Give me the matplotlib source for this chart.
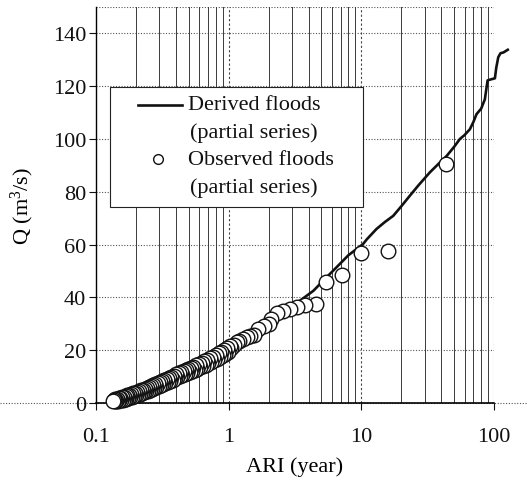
import matplotlib
matplotlib.use("Agg")
import matplotlib.pyplot as plt
import matplotlib.transforms as mtransforms
from matplotlib.patches import Rectangle
from matplotlib.ticker import FixedLocator, NullFormatter

plt.rcParams['font.family'] = ['Liberation Serif', 'DejaVu Serif']
plt.rcParams['mathtext.fontset'] = 'custom'
plt.rcParams['mathtext.rm'] = 'Liberation Serif'
plt.rcParams['mathtext.it'] = 'Liberation Serif:italic'

# Derived floods (partial series)
derived_ari = [0.13, 0.2, 0.3, 0.5, 0.7, 1.0, 1.45, 1.72, 2.2, 2.73, 3.5, 4.35,
               5.2, 6.5, 8.0, 10.3, 11.0, 13.0, 15.0, 17.4, 20.0, 23.2, 27.0,
               32.9, 38.0, 44.0, 50.0, 55.3, 60.0, 65.8, 70.0, 73.8, 80.0, 85.3,
               89.5, 95.0, 101.6, 104.0, 107.7, 112.0, 118.0, 127.0]
derived_q = [0.5, 3.5, 7.0, 12.0, 15.5, 20.5, 27.0, 29.3, 32.5, 35.6, 39.0, 42.5,
             46.5, 51.4, 56.0, 60.2, 62.0, 65.9, 68.5, 70.9, 74.5, 78.5, 82.5,
             87.4, 90.5, 93.6, 97.0, 100.0, 101.5, 103.7, 106.5, 109.4, 111.5, 115.0,
             122.2, 122.6, 123.0, 127.0, 131.0, 132.5, 132.8, 133.8]

# Observed floods (partial series)
obs_ari = [43.4, 16.0, 9.86, 7.1, 5.4, 4.55, 3.76, 3.25, 2.9, 2.58, 2.3, 2.1,
           2.0, 1.85, 1.67, 1.55, 1.45, 1.37, 1.28, 1.2, 1.15, 1.1, 1.05,
           1.02, 0.99, 0.97, 0.94, 0.92, 0.90, 0.88, 0.86, 0.84, 0.82, 0.80,
           0.78, 0.76, 0.74, 0.72, 0.70, 0.685, 0.67, 0.655, 0.64, 0.625, 0.61,
           0.595, 0.58, 0.567, 0.555, 0.543, 0.531, 0.52, 0.509, 0.498, 0.487,
           0.477, 0.467, 0.457, 0.447, 0.438, 0.429, 0.420, 0.411, 0.402, 0.394,
           0.386, 0.378, 0.370, 0.362, 0.355, 0.348, 0.341, 0.334, 0.327, 0.321,
           0.315, 0.309, 0.303, 0.297, 0.291, 0.285, 0.280, 0.275, 0.270, 0.265,
           0.260, 0.255, 0.250, 0.246, 0.242, 0.237, 0.233, 0.229, 0.225, 0.221,
           0.217, 0.213, 0.210, 0.206, 0.203, 0.199, 0.196, 0.193, 0.190, 0.187,
           0.184, 0.181, 0.178, 0.175, 0.172, 0.169, 0.167, 0.164, 0.162, 0.159,
           0.157, 0.154, 0.152, 0.150, 0.148, 0.146, 0.144, 0.142, 0.140, 0.138,
           0.136, 0.134]
obs_q = [90.5, 57.7, 56.8, 48.6, 45.7, 37.5, 37.1, 36.2, 35.6, 35.0, 34.0, 32.0,
         30.0, 29.0, 28.0, 25.7, 25.5, 25.0, 24.2, 23.6, 23.0, 22.0, 21.0,
         21.5, 19.2, 20.8, 18.6, 20.0, 18.0, 19.4, 17.4, 18.8, 16.8, 18.2,
         16.2, 17.6, 15.6, 17.0, 15.0, 16.4, 14.5, 15.8, 14.0, 15.3, 13.5,
         14.8, 13.0, 14.3, 12.5, 13.8, 12.1, 13.4, 11.7, 12.9, 11.3,
         12.5, 10.9, 12.1, 10.5, 11.7, 10.1, 11.3, 9.7, 10.8, 9.3,
         10.4, 8.9, 10.0, 8.5, 9.6, 8.1, 9.2, 7.7, 8.8, 7.3,
         8.4, 6.9, 8.0, 6.5, 7.6, 6.1, 7.2, 5.8, 6.8, 5.4,
         6.5, 5.1, 6.1, 4.7, 5.8, 4.4, 5.4, 4.1, 5.1, 3.8,
         4.8, 3.5, 4.5, 3.2, 4.2, 2.9, 3.9, 2.6, 3.6, 2.4,
         3.4, 2.1, 3.1, 1.9, 2.9, 1.7, 2.6, 1.5, 2.4, 1.3,
         2.2, 1.2, 2.0, 1.0, 1.8, 0.9, 1.6, 0.8, 1.4, 0.8,
         1.1, 0.8]

x_ticks = [0.1, 1, 10, 100]
x_tick_labels = ['0.1', '1', '10', '100']
y_ticks = [0, 20, 40, 60, 80, 100, 120, 140]

FS = 16

fig = plt.figure(figsize=(5.27, 4.89), dpi=100)
ax = fig.add_axes([96/527, 1-404/489, 398/527, 396/489])

ax.set_xscale('log')
ax.set_xlim(0.1, 100)
ax.set_ylim(0, 150)

# grids
dot = (0, (1, 1.5))
for yv in y_ticks[1:]:
    ax.axhline(yv, color='#555555', lw=0.8, ls=dot, zorder=0.5)
ax.axhline(150, color='#555555', lw=0.8, ls=dot, zorder=0.5)
minor_x = [m * 10.0**e for e in (-1, 0, 1) for m in range(2, 10)]
for xv in minor_x:
    ax.axvline(xv, color='#3a3a3a', lw=0.7, zorder=0.5)
for xv in (1, 10):
    ax.axvline(xv, color='#444444', lw=0.8, ls=(0, (2, 2)), zorder=0.5)
ax.axvline(100, color='#444444', lw=0.8, ls=dot, zorder=0.5)

# y=0 dotted line across the figure width
trans = mtransforms.blended_transform_factory(fig.transFigure, ax.transData)
ax.plot([0, 1], [0, 0], transform=trans, color='#555555', lw=0.8,
        ls=dot, clip_on=False, zorder=0.6)

ax.spines['top'].set_visible(False)
ax.spines['right'].set_visible(False)
ax.spines['left'].set_linewidth(1.0)
ax.spines['bottom'].set_linewidth(1.2)

ax.xaxis.set_major_locator(FixedLocator(x_ticks))
ax.set_xticklabels(x_tick_labels)
ax.xaxis.set_minor_locator(FixedLocator([]))
ax.xaxis.set_minor_formatter(NullFormatter())
ax.set_yticks(y_ticks)
ax.tick_params(axis='both', direction='out', length=5, width=0.8,
               labelsize=FS, colors='#111111')
ax.tick_params(axis='x', pad=12)
ax.tick_params(axis='y', pad=2)

ax.set_xlabel('ARI (year)', fontsize=FS, labelpad=8)
ax.set_ylabel(r'Q (m$^{3}$/s)', fontsize=FS, labelpad=12)

# derived line
ax.plot(derived_ari, derived_q, color='#111111', lw=1.9, clip_on=False, zorder=3)
# observed points
ax.plot(obs_ari, obs_q, ls='none', marker='o', ms=10.5, mfc='white',
        mec='#111111', mew=1.0, zorder=4, clip_on=False)

# legend (manual)
def axx(px):
    return (px - 96) / 398.0

def axy(py):
    return (404 - py) / 396.0

ax.add_patch(Rectangle((axx(110), axy(208)), axx(363) - axx(110), axy(88) - axy(208),
                       transform=ax.transAxes, facecolor='white', edgecolor='#222222',
                       lw=0.8, zorder=6))
ax.plot([axx(138), axx(182)], [axy(106), axy(106)], transform=ax.transAxes,
        color='#111111', lw=1.9, zorder=7)
ax.plot([axx(158)], [axy(160)], transform=ax.transAxes, ls='none', marker='o',
        ms=7, mfc='white', mec='#111111', mew=1.0, zorder=7)
for txt, py, px in [('Derived floods', 106, 188), ('(partial series)', 133, 190),
                    ('Observed floods', 161, 188), ('(partial series)', 188, 190)]:
    ax.text(axx(px), axy(py), txt, transform=ax.transAxes, fontsize=FS,
            va='center', ha='left', color='#111111', zorder=8)

fig.savefig('out.png', dpi=100)
